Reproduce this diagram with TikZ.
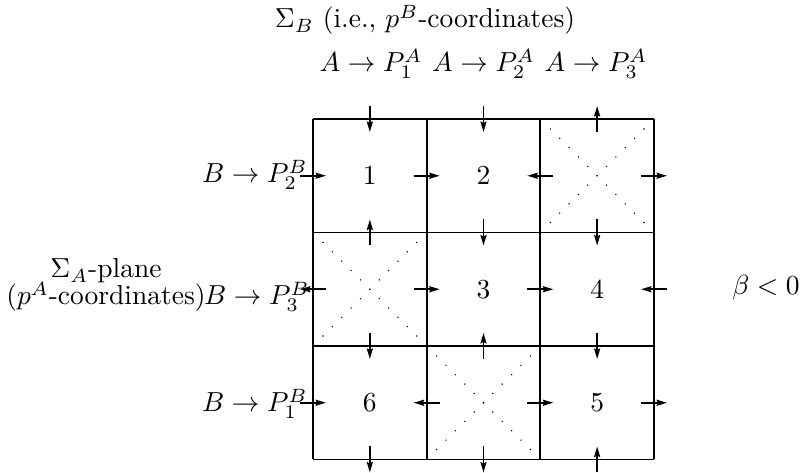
\documentclass[tikz,border=0pt]{standalone}
\usetikzlibrary{arrows.meta,calc}
\begin{document}
\begin{tikzpicture}[x=0.3636pt,y=-0.3636pt,
  gridline/.style={line width=0.7pt},
  flow/.style={line width=0.65pt,-{Stealth[length=3.8pt,width=2.2pt,inset=0.5pt]}},
  xdot/.style={fill=black},
  lab/.style={inner sep=0pt}]
\useasboundingbox (0,0) rectangle (805,473);
% grid corners
\foreach \i/\x in {0/313,1/426.7,2/540.3,3/654}
  \foreach \j/\y in {0/119,1/232.5,2/346,3/459.5}
    \coordinate (g\i\j) at (\x,\y);
% grid lines
\foreach \j in {0,...,3} \draw[gridline] (g0\j) -- (g3\j);
\foreach \i in {0,...,3} \draw[gridline] (g\i0) -- (g\i3);
% cell centres
\foreach \i/\x in {1/369.85,2/483.5,3/597.15}
  \foreach \j/\y in {1/175.75,2/289.25,3/402.75}
    \coordinate (c\i\j) at (\x,\y);
% numbers
\node[lab] (n1) at (c11) {1};
\node[lab] (n2) at (c21) {2};
\node[lab] (n3) at (c22) {3};
\node[lab] (n4) at (c32) {4};
\node[lab] (n5) at (c33) {5};
\node[lab] (n6) at (c13) {6};
% dotted crosses
\foreach \i/\j in {2/0,0/1,1/2}{
  \pgfmathtruncatemacro{\ii}{\i+1}
  \pgfmathtruncatemacro{\jj}{\j+1}
  \coordinate (p) at ($(g\i\j)+(10,10)$);
  \coordinate (q) at ($(g\ii\jj)+(-10,-10)$);
  \coordinate (r) at ($(g\ii\j)+(-10,10)$);
  \coordinate (s) at ($(g\i\jj)+(10,-10)$);
  \foreach \k in {0,...,10}{
    \fill[xdot] ($(p)!\k/10!(q)$) circle (0.28pt);
    \fill[xdot] ($(r)!\k/10!(s)$) circle (0.28pt);
  }
}
% vertical arrows: x, y, dir (1 = down, -1 = up)
\foreach \x/\y/\d in {
  369.85/119/1, 483.5/119/1, 597.15/119/-1,
  369.85/232.5/-1, 483.5/232.5/1, 597.15/232.5/1,
  369.85/346/1, 483.5/346/-1, 597.15/346/1,
  369.85/459.5/1, 483.5/459.5/1, 597.15/459.5/-1}
  \draw[flow] (\x,\y-13*\d) -- (\x,\y+13*\d);
% horizontal arrows: x, y, dir (1 = right, -1 = left)
\foreach \x/\y/\d in {
  313/175.75/1, 426.7/175.75/1, 540.3/175.75/-1, 654/175.75/1,
  313/289.25/-1, 426.7/289.25/1, 540.3/289.25/1, 654/289.25/-1,
  313/402.75/1, 426.7/402.75/-1, 540.3/402.75/1, 654/402.75/1}
  \draw[flow] (\x-13*\d,\y) -- (\x+13*\d,\y);
% labels
\node[lab,anchor=base] (sb) at (425,28) {$\Sigma_B$ (i.e., $p^B$-coordinates)};
\node[lab,anchor=base] (a1) at (371,72) {$A\to P_1^A$};
\node[lab,anchor=base] (a2) at (483.5,72) {$A\to P_2^A$};
\node[lab,anchor=base] (a3) at (596,72) {$A\to P_3^A$};
\node[lab,anchor=base east] (b2) at (308,183) {$B\to P_2^B$};
\node[lab,anchor=base east] (b3) at (310,305) {$B\to P_3^B$};
\node[lab,anchor=base east] (b1) at (308,412) {$B\to P_1^B$};
\node[lab,anchor=base] (sa1) at (106,278) {$\Sigma_A$-plane};
\node[lab,anchor=base] (sa2) at (106,305) {($p^A$-coordinates)};
\node[lab,anchor=base] (beta) at (766,295) {$\beta<0$};
\end{tikzpicture}
\end{document}
